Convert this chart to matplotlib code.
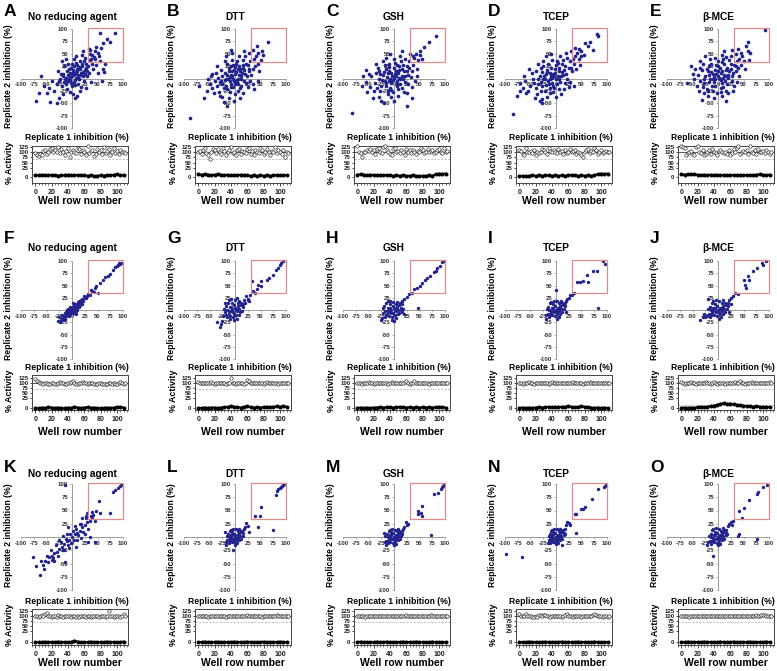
import numpy as np
import matplotlib
matplotlib.use('Agg')
import matplotlib.pyplot as plt
from matplotlib.patches import Rectangle
from matplotlib.ticker import MultipleLocator

# ---------------- data ----------------
panel_letters = [['A', 'B', 'C', 'D', 'E'], ['F', 'G', 'H', 'I', 'J'], ['K', 'L', 'M', 'N', 'O']]
agents = ['No reducing agent', 'DTT', 'GSH', 'TCEP', 'β-MCE']
inhib_ticks = [-100, -75, -50, -25, 0, 25, 50, 75, 100]
activity_ticks = [0, 25, 50, 75, 100, 125]
well_ticks = [0, 20, 40, 60, 80, 100]

# (replicate 1 inhibition %, replicate 2 inhibition %)
pts_A = [(0,5),(5,10),(10,15),(-5,0),(15,20),(-10,-5),(8,2),(2,18),(12,8),(-3,12),(18,12),(6,-4),(-8,8),(20,25),(-15,-8),(3,25),(14,-2),(25,18),(-12,2),(10,28),(22,5),(-2,-10),(28,30),(-18,5),(7,32),(16,35),(30,15),(-6,20),(0,-15),(24,-6),(-20,-15),(12,-12),(32,25),(-25,-5),(4,40),(35,38),(-10,-22),(26,42),(18,-18),(-30,-12),(40,30),(-22,10),(8,45),(42,20),(-35,-25),(-4,-28),(20,48),(30,5),(-28,15),(15,-25),(45,40),(-40,-5),(2,-32),(36,50),(-15,25),(48,28),(-45,-20),(10,-35),(22,55),(-50,-30),(50,12),(-8,30),(38,-8),(28,-20),(-18,-32),(-25,-40),(5,-40),(33,60),(-55,-15),(55,35),(0,30),(-12,40),(-20,35),
         (2,8),(7,14),(-4,4),(11,2),(-9,15),(17,7),(4,-8),(-1,22),(13,24),(-14,-2),(21,13),(9,20),(-7,-6),(26,10),(1,12),(-11,-12),(19,30),(6,-14),(-17,10),(14,0),(28,22),(-3,-3),(23,35),(-24,0),(33,12),
         (-71,-45),(-43,-47),(55,92),(84,92),(68,79),(75,74),(61,72),(48,64),(35,58),(51,51),(40,48),(57,62),(60,20),(62,14),(43,44),(38,40),(46,55),(52,45),(-65,-30),(-60,5),(58,-5),(65,30),(-30,-50)]
pts_B = [(-5,5),(0,10),(5,0),(-10,-5),(10,15),(-15,8),(3,-8),(-2,18),(12,5),(-8,-12),(15,22),(-20,-3),(8,25),(-12,15),(20,10),(-3,-18),(18,-5),(-18,-15),(25,28),(-25,5),(2,30),(-8,25),(28,15),(-22,-20),(12,-15),(-30,-8),(30,35),(5,-25),(-15,30),(22,-10),(-28,18),(35,20),(-35,-15),(-10,-28),(15,38),(38,40),(-40,-5),(25,-18),(-5,38),(0,-32),(-32,-28),(40,25),(-45,-20),(30,-5),(-20,35),(8,45),(-48,5),(20,45),(-38,12),(35,-12),(-25,-38),(45,30),(-12,-40),(15,-30),(-50,-12),(-18,45),(-5,52),(42,45),(10,-40),(-8,58),(48,15),(-30,-35),(-42,-30),(28,52),(-55,-25),(32,8),(-2,-45),(18,55),(-22,-48),(50,38),(-35,25),(5,20),(-15,-22),(22,30),(-8,8),(12,-2),(-28,-5),(0,-12),(-45,10),(38,-22),(-52,-2),(46,-5),
         (-3,0),(2,14),(-9,3),(7,8),(-13,-2),(4,-4),(-6,15),(10,20),(-17,0),(14,12),(-1,-6),(-11,22),(18,18),(-20,12),(6,-12),(-7,-18),(24,6),(0,24),(-26,-12),(16,28),(-4,28),(9,-20),(-33,2),(27,20),(3,36),
         (-88,-79),(65,74),(43,66),(46,52),(35,58),(-60,-40),(-70,-15),(52,55),(55,48),(-15,-55)]
pts_C = [(-3,5),(2,10),(-8,0),(6,-5),(-12,12),(10,18),(-5,-10),(15,5),(-18,-5),(0,22),(12,-12),(-15,20),(20,15),(-22,8),(5,28),(-8,-20),(18,-2),(-25,-15),(25,25),(-10,30),(8,-22),(-30,0),(28,8),(-2,-28),(-18,28),(30,35),(-28,-25),(15,-20),(-35,12),(22,40),(-12,-32),(35,15),(-38,-10),(0,40),(-22,35),(38,28),(-40,-25),(12,45),(-5,-38),(28,-12),(-45,5),(40,42),(-30,-38),(20,-28),(-48,-18),(-15,42),(45,20),(-50,10),(8,-35),(32,50),(-25,-45),(42,-5),(-55,-8),(-8,50),(48,38),(-35,30),(25,-30),(-42,-40),(15,55),(-52,-28),(36,-18),(-20,-50),(0,-45),(-10,15),(5,-12),(18,28),(-28,10),(-6,-5),(10,2),(-15,-10),(22,-8),(3,15),(-55,18),(50,48),(-32,22),(46,5),
         (0,2),(-5,12),(4,6),(-9,-6),(8,12),(-14,4),(12,0),(-2,-4),(-20,14),(16,20),(6,-16),(-10,24),(22,5),(-16,-16),(2,32),(-24,-4),(26,16),(-6,-24),(10,26),(-30,16),(30,22),(-12,-26),(14,36),(-34,-20),(34,4),
         (-83,-70),(82,86),(69,74),(59,64),(43,50),(50,55),(38,45),(55,40),(-62,-15),(-60,5),(35,-40),(25,-55)]
pts_D = [(-10,5),(-5,10),(0,0),(-15,-5),(5,15),(-20,10),(-8,-10),(10,5),(-25,-2),(-2,20),(8,-8),(-18,18),(15,18),(-28,-15),(0,28),(-12,-20),(20,10),(-32,5),(12,30),(-22,-25),(25,22),(-5,-28),(-35,-12),(18,-10),(-15,30),(28,35),(-40,-20),(5,-22),(-30,22),(32,15),(-45,0),(-8,38),(22,42),(-38,-32),(35,30),(-25,35),(15,-22),(-50,-15),(38,45),(-18,-38),(8,45),(-48,12),(40,20),(-55,-25),(-35,30),(28,-8),(-60,-5),(45,40),(-28,-42),(0,-38),(-42,-40),(20,52),(-52,20),(48,28),(-10,50),(30,55),(-58,-30),(10,-32),(-20,45),(42,52),(-65,-20),(-3,5),(-12,12),(6,-2),(-22,0),(14,8),(-6,-15),(2,35),(-30,-8),(25,-18),(50,45),(-62,5),(35,-15),(-40,15),
         (-7,2),(-12,-2),(-2,12),(3,6),(-17,14),(-9,22),(6,22),(-24,5),(2,-12),(-14,-12),(12,14),(-27,14),(18,25),(-20,-14),(-4,-20),(22,-2),(-36,-2),(14,38),(-30,-25),(30,22),(-26,25),(4,32),(-44,-10),(34,40),(-12,-30),
         (80,89),(83,86),(57,72),(67,74),(73,57),(62,65),(50,55),(55,48),(45,60),(-84,-72),(-77,-36),(-31,-46),(-27,-49),(-71,-9),(-70,-25),(38,62)]
pts_E = [(0,6),(5,12),(-5,0),(10,2),(-10,10),(15,18),(-8,-8),(3,22),(20,8),(-15,-2),(8,-10),(-3,28),(25,20),(-20,15),(12,30),(-12,-15),(28,5),(-25,5),(18,-12),(0,35),(-18,25),(32,28),(-28,-10),(5,-20),(22,38),(-10,-25),(35,15),(-32,18),(10,40),(-35,-5),(28,-5),(-22,-22),(38,35),(-5,42),(15,-25),(-40,8),(40,22),(-30,30),(25,45),(-2,-30),(42,40),(-42,-15),(32,-15),(-15,40),(45,28),(-38,-25),(8,48),(-45,20),(20,-30),(48,45),(-20,-35),(35,50),(-48,0),(42,5),(-25,45),(12,55),(-8,-40),(50,35),(30,-25),(0,15),(-10,-2),(15,5),(6,-4),(-6,18),(22,15),(-18,8),(10,-18),(38,-8),(-35,35),(52,20),(-50,10),(28,58),(-28,-30),(46,52),
         (2,2),(-3,10),(7,16),(-7,4),(12,8),(-13,14),(4,-2),(18,22),(-17,-8),(0,26),(14,-6),(-22,20),(26,30),(-6,-16),(20,2),(-28,0),(8,34),(-14,30),(30,12),(-30,-18),(16,44),(-36,22),(36,25),(-20,-26),(5,-28),
         (93,97),(59,73),(59,56),(62,52),(-32,-43),(7,-36),(55,65),(40,60),(-60,-10),(60,38),(-52,25),(15,-45)]
pts_F = [(0,0),(3,2),(-3,-2),(5,6),(-5,-4),(8,7),(-8,-6),(2,-3),(-2,3),(10,12),(-10,-9),(12,10),(-12,-13),(6,2),(-6,-1),(4,8),(-4,-8),(15,14),(-15,-12),(1,6),(-1,-6),(14,18),(-14,-18),(7,-2),(-7,3),(18,16),(-18,-16),(9,4),(-9,-4),(11,16),(-11,-4),(20,22),(-20,-18),(16,10),(-16,-20),(22,18),(-22,-20),(3,-6),(-3,7),(13,6),(-13,-6),(25,24),(-24,-25),(17,20),(-5,-12),(5,12),(19,12),(-19,-10),(24,28),(28,25),(30,28),(32,33),(35,30),(38,40),(40,38),(44,36),(45,45),(50,34),(48,50),(55,55),(60,62),(65,68),(70,70),(75,74),(80,82),(85,88),(88,90),(90,92),(93,95),(95,93),(97,96),(-25,-15),(-28,-22),(2,15),(8,-8),(10,0),(-10,0)]
pts_G = [(-5,2),(0,5),(-8,-3),(3,-2),(-2,10),(-10,6),(5,8),(-12,-8),(2,-10),(-6,14),(8,2),(-15,0),(-3,-15),(6,15),(-18,8),(10,-5),(-9,-12),(0,20),(-14,15),(12,10),(-20,-5),(4,-18),(-7,22),(14,-2),(-16,-15),(8,18),(-22,3),(15,6),(-1,-20),(-12,20),(-4,-5),(1,0),(-7,6),(4,3),(-11,-2),(-2,-8),(7,-10),(-17,-10),(11,15),(16,12),(-24,-12),(-20,15),(3,24),(-10,-18),(18,20),(20,15),(25,22),(22,28),(30,30),(25,20),(-28,-28),(-25,-22),(-30,-35),(-35,-25),(33,59),(51,59),(44,43),(45,51),(62,61),(67,65),(74,72),(80,81),(88,92),(95,99),(85,86),(90,95),(35,38),(40,35),(50,48),(28,18)]
pts_H = [(-5,0),(0,4),(-9,-4),(3,-3),(-2,8),(-12,4),(5,6),(-14,-9),(1,-10),(-7,12),(8,0),(-17,-2),(-4,-14),(4,12),(-19,8),(9,-6),(-10,-12),(-1,16),(-15,14),(10,10),(-22,-6),(3,-16),(-8,18),(13,-1),(-18,-14),(6,16),(-22,4),(14,5),(-3,-20),(-12,18),(-6,-6),(2,1),(-8,5),(5,2),(-11,-2),(-1,-7),(7,-9),(-16,-10),(12,14),(15,12),(-24,-16),(-25,-20),(0,-22),(16,-5),(20,22),(15,18),(25,26),(30,32),(35,35),(40,42),(45,45),(50,50),(55,55),(60,62),(65,65),(70,70),(78,78),(83,80),(85,85),(90,90),(95,97),(98,100),(48,5),(20,-8),(18,3)]
pts_I = [(0,0),(4,4),(-4,-3),(6,-2),(-2,8),(-8,4),(8,8),(-10,-6),(2,-8),(-6,12),(10,2),(-13,0),(-1,-12),(6,14),(-15,7),(12,-4),(-7,-10),(2,18),(-11,14),(14,10),(-16,-8),(5,-14),(-4,18),(16,2),(-14,-14),(9,18),(-18,2),(18,8),(1,-18),(-9,16),(-3,-4),(3,2),(-6,4),(7,4),(-10,-2),(1,-5),(8,-8),(-12,-10),(12,15),(17,14),(-20,-10),(20,18),(22,22),(25,25),(28,30),(32,30),(35,35),(0,41),(41,57),(53,60),(60,72),(63,58),(73,80),(80,79),(93,99),(96,94),(83,4),(48,58),(-20,-18),(20,-5)]
pts_J = [(0,0),(4,5),(-5,-3),(7,-2),(-2,9),(-9,4),(9,8),(-11,-7),(3,-9),(-6,13),(11,3),(-14,1),(-1,-13),(7,15),(-16,7),(13,-4),(-8,-11),(2,19),(-12,15),(15,11),(-18,-8),(6,-15),(-4,20),(18,3),(-15,-15),(10,20),(-20,3),(20,9),(1,-19),(-10,18),(-3,-4),(3,2),(-6,4),(8,4),(-11,-2),(1,-5),(9,-8),(-13,-10),(14,15),(19,15),(-22,-12),(22,20),(-25,-15),(-30,-15),(-35,-20),(-28,-8),(22,-5),(25,25),(30,28),(33,35),(40,32),(55,45),(50,62),(59,69),(53,52),(69,80),(76,86),(86,96),(95,99),(88,92),(60,62),(-20,22),(25,12)]
pts_K = [(0,0),(5,5),(-5,-5),(10,8),(-10,-8),(3,-5),(-3,6),(15,12),(-15,-13),(8,15),(-8,-15),(20,18),(-20,-18),(12,3),(-12,-3),(25,22),(-25,-22),(18,25),(-18,-25),(2,12),(-2,-12),(30,28),(-30,-28),(22,10),(-22,-10),(28,35),(-28,-35),(35,30),(-35,-30),(10,-5),(-10,5),(15,25),(-15,-25),(38,40),(-38,-40),(6,20),(-6,-20),(25,5),(-25,-5),(32,15),(-32,-15),(40,35),(-40,-35),(17,-2),(-17,2),(45,30),(-45,-38),(-48,-48),(-52,-45),(-55,-60),(-42,-25),(-50,-35),(20,35),(-35,-45),(32,-9),(35,0),(45,-10),(30,45),(-14,98),(97,98),(95,96),(90,92),(85,88),(80,85),(52,67),(48,49),(39,48),(41,42),(55,45),(75,45),(-63,-72),(-56,-53),(-76,-37),(-40,-43),(-14,-47),(-60,-45),(-70,-55),(8,-18),(-8,18),(27,40)]
pts_L = [(0,0),(3,3),(-3,-3),(6,-2),(-2,6),(-7,3),(7,7),(-9,-6),(2,-7),(-5,10),(9,2),(-11,0),(-1,-10),(5,12),(-13,6),(11,-3),(-6,-9),(2,15),(-10,12),(12,9),(-15,-6),(4,-12),(-3,16),(15,2),(-12,-12),(8,16),(-16,2),(16,7),(0,-15),(-8,14),(-2,-3),(2,1),(-5,3),(6,3),(-8,-1),(1,-4),(7,-6),(-10,-8),(10,12),(14,12),(-18,-9),(18,15),(20,18),(22,26),(25,20),(28,10),(-20,10),(-3,-25),(50,57),(39,40),(49,40),(75,13),(46,18),(80,80),(82,86),(85,90),(88,92),(90,94),(92,96),(95,98),(97,100),(-18,-15)]
pts_M = [(0,0),(3,4),(-4,-3),(6,-1),(-2,7),(-7,3),(7,6),(-9,-5),(2,-8),(-5,10),(9,1),(-12,0),(-1,-11),(5,11),(-14,6),(11,-3),(-7,-9),(1,14),(-10,12),(12,8),(-15,-7),(4,-13),(-3,15),(14,2),(-12,-12),(8,15),(-17,2),(16,6),(0,-16),(-8,14),(-2,-3),(2,1),(-5,3),(6,3),(-8,-1),(1,-4),(7,-6),(-11,-8),(10,11),(15,12),(-18,-10),(18,15),(20,18),(23,28),(25,22),(28,25),(-20,8),(73,3),(47,50),(52,46),(48,44),(55,58),(54,40),(79,82),(87,83),(93,91),(95,94),(97,97),(99,100),(-16,-15)]
pts_N = [(0,0),(3,3),(-3,-3),(6,-2),(-2,7),(-7,3),(7,7),(-9,-5),(2,-8),(-5,10),(9,2),(-11,0),(-1,-10),(5,12),(-12,6),(11,-3),(-6,-9),(2,15),(-10,12),(12,9),(-14,-6),(4,-12),(-3,16),(15,3),(-11,-11),(8,16),(-14,2),(16,8),(0,-14),(-8,14),(-2,-3),(2,1),(-5,3),(6,3),(-8,-1),(1,-4),(7,-6),(-10,-8),(10,12),(14,13),(18,16),(20,22),(22,28),(25,26),(28,22),(-98,-32),(-67,-38),(40,7),(11,-16),(99,99),(96,97),(94,95),(83,90),(70,72),(57,57),(52,52),(50,53),(40,44),(38,44),(-15,-12),(18,5)]
pts_O = [(0,0),(3,4),(-4,-3),(6,-2),(-2,7),(-8,3),(7,7),(-10,-6),(2,-9),(-6,10),(9,2),(-13,0),(-1,-11),(5,12),(-14,6),(11,-3),(-7,-10),(2,16),(-11,13),(12,9),(-16,-7),(4,-13),(-4,17),(15,3),(-13,-13),(9,17),(-18,2),(16,8),(0,-16),(-9,15),(-2,-3),(2,1),(-5,3),(6,3),(-9,-1),(1,-4),(7,-6),(-11,-8),(11,13),(15,14),(-20,-10),(20,20),(22,25),(25,28),(28,22),(30,30),(-22,-15),(96,98),(89,94),(79,84),(76,82),(60,70),(51,55),(41,49),(47,36),(76,-4),(41,6),(40,1),(-10,-35),(18,5)]

# % activity of control wells (every 2nd well row) and of sample wells (every 4th well row)
ctrl_wells = np.arange(0, 112, 2)
samp_wells = np.arange(0, 112, 4)
ctrl_A = [95,88,82,90,85,105,110,92,100,115,120,98,108,102,125,95,112,100,88,105,118,75,98,110,102,95,120,115,92,108,100,85,128,95,105,110,80,92,115,100,108,90,122,96,104,112,88,100,118,95,106,92,110,100,98,95]
ctrl_B = [100,105,92,110,118,95,88,70,102,115,108,96,112,100,90,120,105,85,98,110,122,95,100,88,108,115,92,104,100,96,112,118,90,105,86,110,100,95,120,108,92,102,114,98,88,106,100,125,95,110,102,92,108,75,100,96]
ctrl_C = [128,100,95,75,98,102,110,105,115,100,108,92,112,118,100,95,122,130,108,100,92,85,112,120,100,105,95,110,100,88,115,102,108,96,110,100,92,105,100,118,108,95,100,112,98,105,110,95,100,108,112,102,96,118,100,105]
ctrl_D = [110,105,92,85,120,98,100,105,95,110,88,100,95,102,115,108,100,92,118,105,98,110,100,95,112,100,105,92,108,96,100,115,98,105,110,92,100,95,85,75,100,108,112,95,105,100,118,108,92,100,110,95,102,105,98,100]
ctrl_E = [128,125,120,85,95,100,105,92,88,125,130,100,95,110,85,90,100,108,92,115,100,95,88,105,110,102,95,100,92,108,85,95,112,100,118,130,90,98,105,100,110,92,128,100,95,108,90,112,100,98,105,95,110,100,92,100]
ctrl_F = [118,108,104,100,98,95,100,102,96,94,98,100,97,95,102,104,100,98,96,95,100,98,105,110,100,97,95,99,102,104,100,98,96,100,102,98,95,94,96,98,100,97,94,96,95,100,98,96,100,94,97,100,105,98,96,100]
ctrl_G = [104,100,98,101,99,102,100,98,103,100,97,101,99,100,102,98,100,97,99,101,125,100,98,96,100,99,102,98,97,100,115,110,98,100,99,102,100,98,101,99,97,100,103,99,100,98,101,100,99,97,102,100,98,101,99,100]
ctrl_H = [102,98,100,97,99,101,98,103,100,99,97,101,100,98,102,99,100,98,101,97,100,103,99,100,98,101,100,99,102,105,110,100,97,102,99,112,98,100,101,99,100,98,102,100,97,101,99,100,98,102,100,99,101,98,100,99]
ctrl_I = [102,100,97,99,101,98,103,100,99,97,101,100,98,102,99,100,98,101,97,100,103,99,100,98,101,100,99,102,100,98,101,99,100,105,100,98,102,99,100,97,101,100,98,103,99,100,98,101,99,100,102,98,100,99,101,100]
ctrl_J = [105,100,97,99,101,98,103,100,99,97,101,100,98,102,99,104,98,101,97,100,103,99,96,98,101,100,99,94,100,98,101,99,100,103,100,98,108,99,100,97,101,100,98,103,99,100,98,101,99,100,102,98,100,99,103,100]
ctrl_K = [100,98,96,102,104,98,110,115,100,98,96,102,98,97,104,100,98,96,100,99,102,98,97,99,100,96,98,97,100,102,99,97,98,100,96,99,100,102,98,97,99,100,98,96,100,125,102,98,97,99,100,102,96,98,110,100]
ctrl_L = [101,99,100,98,102,100,97,101,99,100,98,102,101,99,100,98,100,97,101,99,100,98,102,100,99,101,98,100,99,102,105,100,98,101,99,100,98,102,100,97,101,99,100,98,102,100,99,101,104,100,98,101,99,100,98,100]
ctrl_M = [100,98,101,99,100,97,98,99,100,101,99,100,98,102,100,99,101,98,100,99,100,98,101,99,100,102,101,99,100,98,104,100,98,101,99,100,98,102,100,99,101,99,100,98,102,103,99,101,98,100,99,100,98,101,99,100]
ctrl_N = [110,100,98,102,112,100,99,100,96,97,98,96,105,104,100,106,103,100,98,97,100,99,102,101,100,98,97,100,104,108,100,98,99,97,100,98,99,100,97,98,99,100,98,100,102,104,110,106,102,100,98,97,100,99,96,98]
ctrl_O = [102,100,98,101,99,97,100,98,99,101,100,98,102,100,99,101,100,98,100,99,101,100,98,102,99,100,98,101,100,99,102,100,98,101,99,100,98,101,100,99,102,100,98,101,99,100,103,101,99,104,106,103,100,102,99,100]

samp_A = [6,5,7,6,5,6,5,4,6,5,7,6,5,6,5,6,4,5,3,4,5,4,6,5,7,8,6,5]
samp_B = [8,7,8,7,6,7,8,7,6,7,6,5,6,7,6,5,4,5,4,5,4,5,4,5,6,5,6,5]
samp_C = [7,8,7,6,7,6,5,6,5,6,5,4,5,4,5,4,4,5,4,3,4,4,5,4,8,10,9,10]
samp_D = [3,4,3,4,5,4,5,4,5,5,4,5,4,5,4,5,6,5,4,5,4,5,4,5,9,10,9,10]
samp_E = [8,7,8,9,8,7,6,7,6,7,6,7,6,5,6,5,6,5,6,5,6,5,6,7,8,7,6,7]
samp_F = [0,-1,1,0,2,1,0,1,0,-1,1,0,3,1,0,1,2,0,1,0,-1,0,1,0,1,2,3,1]
samp_G = [0,0,1,0,1,1,0,1,2,3,4,3,2,1,3,4,2,1,2,1,2,3,2,3,4,3,4,3]
samp_H = [0,1,0,1,0,1,1,2,1,2,2,1,2,3,2,1,2,1,2,1,2,1,2,1,2,3,2,1]
samp_I = [0,1,0,1,0,1,2,1,2,3,2,3,2,3,3,4,3,2,3,4,3,2,1,0,1,0,1,0]
samp_J = [0,1,0,1,0,2,3,2,3,5,6,8,10,12,10,11,9,8,7,6,5,4,3,4,3,2,3,2]
samp_K = [0,0,0,1,0,0,0,1,0,0,0,0,3,1,0,0,0,1,0,0,0,0,1,0,0,0,0,1]
samp_L = [0,0,1,0,0,0,1,0,0,0,0,1,0,0,0,1,0,0,0,0,1,0,0,0,0,1,0,0]
samp_M = [0,1,0,0,0,0,1,0,0,1,0,0,0,0,1,0,0,0,1,0,0,0,0,1,0,0,0,0]
samp_N = [0,0,0,1,0,0,0,0,1,0,0,0,0,1,0,0,0,0,1,0,0,0,0,1,0,0,0,0]
samp_O = [0,0,1,0,0,0,0,1,0,0,0,0,1,0,0,0,1,0,0,0,0,1,0,0,0,0,1,0]

hit_threshold = [70, 70, 70]   # dashed line per row
extra_threshold_J = 8

pts = [[pts_A, pts_B, pts_C, pts_D, pts_E], [pts_F, pts_G, pts_H, pts_I, pts_J], [pts_K, pts_L, pts_M, pts_N, pts_O]]
ctrls = [[ctrl_A, ctrl_B, ctrl_C, ctrl_D, ctrl_E], [ctrl_F, ctrl_G, ctrl_H, ctrl_I, ctrl_J], [ctrl_K, ctrl_L, ctrl_M, ctrl_N, ctrl_O]]
samps = [[samp_A, samp_B, samp_C, samp_D, samp_E], [samp_F, samp_G, samp_H, samp_I, samp_J], [samp_K, samp_L, samp_M, samp_N, samp_O]]

# ---------------- layout / style ----------------
W, H = 777, 671
fig = plt.figure(figsize=(W / 100, H / 100), dpi=100)
fig.patch.set_facecolor('white')

SANS = ['Liberation Sans', 'DejaVu Sans']


def fx(px):
    return px / W


def fy(py):
    return 1 - py / H


col_left = [21, 184, 343, 505, 667]
scat_w = 102
rows = [
    dict(st=29, sb=128, kt=146, kb=183, let_y=11, tit_y=16.5, xl_y=137.3, wl_y=201, ms=7,
         sv=[-15, 0, 25, 128], sf=[0, 0.154, 0.40, 1.0]),
    dict(st=261, sb=359, kt=375, kb=410, let_y=238.5, tit_y=248.5, xl_y=368, wl_y=432, ms=6,
         sv=[-5, 0, 25, 140], sf=[0, 0.057, 0.343, 1.0]),
    dict(st=484, sb=590, kt=609, kb=645, let_y=467, tit_y=474, xl_y=602, wl_y=663, ms=6,
         sv=[-6, 0, 25, 125, 135], sf=[0, 0.08, 0.40, 0.94, 1.0]),
]


def make_scale(v, f):
    v = np.asarray(v, float)
    f = np.asarray(f, float)
    s0 = (f[1] - f[0]) / (v[1] - v[0])
    s1 = (f[-1] - f[-2]) / (v[-1] - v[-2])
    V = np.concatenate([[v[0] - 1e4], v, [v[-1] + 1e4]])
    F = np.concatenate([[f[0] - 1e4 * s0], f, [f[-1] + 1e4 * s1]])
    return (lambda y: np.interp(y, V, F)), (lambda y: np.interp(y, F, V))


AX_GREY = '#9a9a9a'
DOT = '#23238e'

for r, row in enumerate(rows):
    for c in range(5):
        sl = col_left[c]
        # ---- scatter ----
        ax = fig.add_axes([fx(sl), fy(row['sb']), fx(scat_w), (row['sb'] - row['st']) / H])
        ax.set_facecolor('none')
        ax.set_xlim(-100, 100)
        ax.set_ylim(-100, 100)
        for side in ['top', 'right']:
            ax.spines[side].set_visible(False)
        for side in ['left', 'bottom']:
            ax.spines[side].set_position(('data', 0))
            ax.spines[side].set_color(AX_GREY)
            ax.spines[side].set_linewidth(0.7)
        ax.set_xticks(inhib_ticks)
        ax.set_xticklabels([str(t) for t in inhib_ticks])
        yt = [t for t in inhib_ticks if t != 0]
        ax.set_yticks(yt)
        ax.set_yticklabels([str(t) for t in yt])
        ax.tick_params(length=1.5, width=0.5, color=AX_GREY, pad=1.2, labelsize=4.3,
                       labelcolor='#333333')
        for lab in ax.get_xticklabels() + ax.get_yticklabels():
            lab.set_fontfamily(SANS)
            lab.set_fontweight('bold')
        xs = [p[0] for p in pts[r][c]]
        ys = [p[1] for p in pts[r][c]]
        ax.scatter(xs, ys, s=row['ms'], c=DOT, linewidths=0, zorder=3, clip_on=False)
        ax.add_patch(Rectangle((32, 34), 68, 68, fill=False, edgecolor='#e08a8a', lw=0.9,
                               zorder=4, clip_on=False))

        # texts
        fig.text(fx(sl - 17), fy(row['let_y']), panel_letters[r][c], fontsize=12.5,
                 fontweight='bold', family=SANS, ha='left', va='center')
        fig.text(fx(sl + 51), fy(row['tit_y']), agents[c], fontsize=7.3, fontweight='bold',
                 family=SANS, ha='center', va='center')
        fig.text(fx(sl - 12.5), fy((row['st'] + row['sb']) / 2 - 2), 'Replicate 2 inhibition (%)',
                 fontsize=6.2, fontweight='bold', family=SANS, rotation=90,
                 ha='center', va='center')
        fig.text(fx(sl + 56), fy(row['xl_y']), 'Replicate 1 inhibition (%)', fontsize=6.2,
                 fontweight='bold', family=SANS, ha='center', va='center')

        # ---- activity strip ----
        kl, kr = sl + 11, sl + 107
        bx = fig.add_axes([fx(kl), fy(row['kb']), fx(kr - kl), (row['kb'] - row['kt']) / H])
        fw, inv = make_scale(row['sv'], row['sf'])
        bx.set_yscale('function', functions=(fw, inv))
        bx.set_ylim(row['sv'][0], row['sv'][-1])
        bx.set_xlim(-4, 113.5)
        bx.axhline(100, color='#555555', lw=0.7, zorder=1)
        bx.axhline(hit_threshold[r], color='#aaaaaa', lw=0.5, ls=(0, (3, 2)), zorder=1)
        if panel_letters[r][c] == 'J':
            bx.axhline(extra_threshold_J, color='#aaaaaa', lw=0.5, ls=(0, (3, 2)), zorder=1)
        bx.plot(samp_wells, samps[r][c], color='black', lw=1.5, marker='o', ms=1.9,
                zorder=3, clip_on=False)
        bx.scatter(ctrl_wells, ctrls[r][c], s=6, facecolors='white', edgecolors='#222222',
                   linewidths=0.45, zorder=4, clip_on=False)
        bx.set_yticks(activity_ticks)
        bx.set_yticklabels([str(t) for t in activity_ticks])
        bx.yaxis.set_minor_locator(plt.NullLocator())
        bx.set_xticks(well_ticks)
        bx.set_xticklabels([str(t) for t in well_ticks])
        bx.xaxis.set_minor_locator(MultipleLocator(4))
        bx.tick_params(axis='y', length=1.5, width=0.5, pad=1, labelsize=4.4, labelcolor='#222222')
        bx.tick_params(axis='x', which='major', length=2, width=0.5, pad=2.5, labelsize=5.0,
                       labelcolor='#222222')
        bx.tick_params(axis='x', which='minor', length=1.2, width=0.4)
        for lab in bx.get_xticklabels() + bx.get_yticklabels():
            lab.set_fontfamily(SANS)
            lab.set_fontweight('bold')
        for sp in bx.spines.values():
            sp.set_color('#444444')
            sp.set_linewidth(0.7)

        fig.text(fx(sl - 11), fy((row['kt'] + row['kb']) / 2 - 2), '% Activity', fontsize=6.4,
                 fontweight='bold', family=SANS, rotation=90, ha='center', va='center')
        fig.text(fx(sl + 59), fy(row['wl_y']), 'Well row number', fontsize=7.5,
                 fontweight='bold', family=SANS, ha='center', va='center')

fig.savefig('out.png', dpi=100, facecolor='white')
